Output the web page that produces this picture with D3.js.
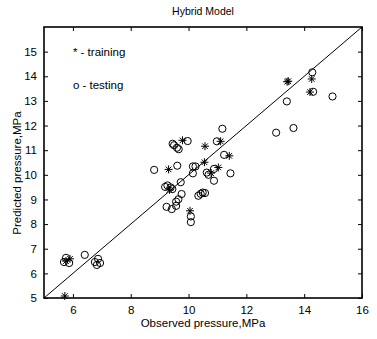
<!DOCTYPE html>
<html>
<head>
<meta charset="utf-8">
<script src="https://cdn.jsdelivr.net/npm/d3@7"></script>
<style>
  body { margin: 0; background: #fff; }
  text { font-family: "Liberation Sans", Arial, sans-serif; fill: #000; }
</style>
</head>
<body>
<svg id="chart" width="377" height="339"></svg>
<script>
// Observed vs predicted pressure (MPa)
const trainObserved = [5.72, 5.76, 5.90, 9.31, 9.79, 10.57, 10.55, 11.11, 11.41, 11.03, 10.78, 9.34, 10.05, 13.41, 13.45, 14.26, 14.20];
const trainPredicted = [5.08, 6.50, 6.59, 10.22, 11.40, 11.16, 10.51, 11.36, 10.77, 10.30, 10.07, 9.39, 8.54, 13.78, 13.80, 13.89, 13.36];

const testObserved = [5.69, 5.76, 5.87, 6.41, 6.76, 6.87, 6.94, 6.83,
  8.81, 9.19, 9.27, 9.38, 9.44, 9.24, 9.42, 9.57, 9.57, 9.65, 9.76, 9.73,
  9.45, 9.50, 9.60, 9.66, 9.97, 9.61, 10.15, 10.24, 10.15, 10.08, 10.08,
  10.34, 10.42, 10.49, 10.57, 10.63, 10.69, 10.88, 10.88, 10.98, 11.17, 11.23, 11.45,
  13.40, 13.03, 13.63, 14.28, 14.31, 14.98];
const testPredicted = [6.46, 6.63, 6.42, 6.75, 6.46, 6.59, 6.42, 6.34,
  10.20, 9.51, 9.57, 9.49, 9.42, 8.70, 8.61, 8.74, 8.91, 9.01, 9.22, 9.70,
  11.26, 11.20, 11.10, 11.04, 11.37, 10.37, 10.34, 10.34, 10.06, 8.31, 8.08,
  9.15, 9.23, 9.28, 9.26, 10.09, 10.00, 10.24, 9.76, 11.36, 11.87, 10.81, 10.06,
  12.98, 11.71, 11.90, 14.16, 13.37, 13.18];

const xTicks = [6, 8, 10, 12, 14, 16];
const yTicks = [5, 6, 7, 8, 9, 10, 11, 12, 13, 14, 15];

const MARGIN = { left: 44, right: 15, top: 27, bottom: 41 };
const WIDTH = 377, HEIGHT = 339;

const svg = d3.select('#chart');

// Scales
const xScale = d3.scaleLinear().domain([5, 16]).range([MARGIN.left, WIDTH - MARGIN.right]);
const yScale = d3.scaleLinear().domain([5, 16]).range([HEIGHT - MARGIN.bottom, MARGIN.top]);

// Axes, ticks pointing inward on all four sides
const tickLen = 4;
svg.append('g')
  .attr('transform', `translate(0, ${yScale(5)})`)
  .call(d3.axisBottom(xScale).tickValues(xTicks).tickSizeInner(-tickLen).tickSizeOuter(0).tickPadding(8));
svg.append('g')
  .attr('transform', `translate(0, ${yScale(16)})`)
  .call(d3.axisTop(xScale).tickValues(xTicks).tickSizeInner(-tickLen).tickSizeOuter(0).tickFormat(''));
svg.append('g')
  .attr('transform', `translate(${xScale(5)}, 0)`)
  .call(d3.axisLeft(yScale).tickValues(yTicks).tickSizeInner(-tickLen).tickSizeOuter(0).tickPadding(7));
svg.append('g')
  .attr('transform', `translate(${xScale(16)}, 0)`)
  .call(d3.axisRight(yScale).tickValues(yTicks).tickSizeInner(-tickLen).tickSizeOuter(0).tickFormat(''));

svg.selectAll('.tick text').style('font-size', '11.5px').style('font-family', '"Liberation Sans", Arial, sans-serif');
svg.selectAll('.domain').remove();
svg.selectAll('.tick line').attr('stroke', '#000');

// Box
svg.append('rect')
  .attr('x', xScale(5)).attr('y', yScale(16))
  .attr('width', xScale(16) - xScale(5)).attr('height', yScale(5) - yScale(16))
  .attr('fill', 'none').attr('stroke', '#000').attr('stroke-width', 1.6);

// y = x reference line
svg.append('line')
  .attr('x1', xScale(5)).attr('y1', yScale(5))
  .attr('x2', xScale(16)).attr('y2', yScale(16))
  .attr('stroke', '#000').attr('stroke-width', 1);

// Testing points (circles)
svg.append('g').selectAll('circle')
  .data(d3.zip(testObserved, testPredicted))
  .join('circle')
  .attr('cx', d => xScale(d[0]))
  .attr('cy', d => yScale(d[1]))
  .attr('r', 3.6)
  .attr('fill', 'none')
  .attr('stroke', '#000')
  .attr('stroke-width', 1);

// Training points (asterisks)
const s = 4;
const starPath = `M${-s},0L${s},0M0,${-s}L0,${s}M${-s*0.7},${-s*0.7}L${s*0.7},${s*0.7}M${-s*0.7},${s*0.7}L${s*0.7},${-s*0.7}`;
svg.append('g').selectAll('path')
  .data(d3.zip(trainObserved, trainPredicted))
  .join('path')
  .attr('transform', d => `translate(${xScale(d[0])}, ${yScale(d[1])})`)
  .attr('d', starPath)
  .attr('stroke', '#000')
  .attr('stroke-width', 1);

// Legend text placed in data coordinates
svg.append('text').attr('x', xScale(6)).attr('y', yScale(14.84))
  .style('font-size', '11.5px').text('* - training');
svg.append('text').attr('x', xScale(6)).attr('y', yScale(13.5))
  .style('font-size', '11.5px').text('o - testing');

// Title and axis labels
svg.append('text').attr('x', (xScale(5) + xScale(16)) / 2).attr('y', 15)
  .attr('text-anchor', 'middle').style('font-size', '10.5px').text('Hybrid Model');
svg.append('text').attr('x', (xScale(5) + xScale(16)) / 2).attr('y', 327)
  .attr('text-anchor', 'middle').style('font-size', '11.5px').text('Observed pressure,MPa');
svg.append('text')
  .attr('transform', `translate(21, 173) rotate(-90)`)
  .attr('text-anchor', 'middle').style('font-size', '11.5px').text('Predicted pressure,MPa');
</script>
</body>
</html>
